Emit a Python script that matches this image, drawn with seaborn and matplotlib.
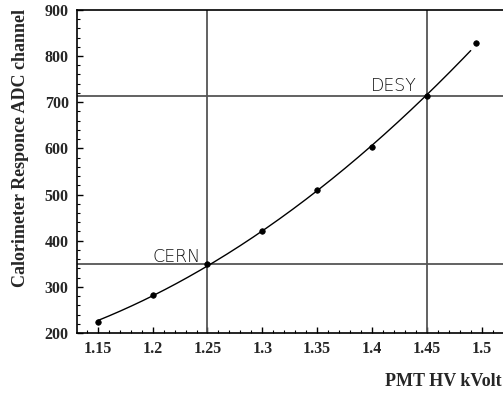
import numpy as np
import pandas as pd
import matplotlib
matplotlib.use("Agg")
import matplotlib.pyplot as plt
from matplotlib.ticker import MultipleLocator, FixedLocator, FixedFormatter
import seaborn as sns

# PMT high voltage (kV) and measured calorimeter response (ADC channel)
hv_kvolt = [1.15, 1.20, 1.25, 1.30, 1.35, 1.40, 1.45, 1.495]
adc_channel = [224, 282, 350, 420, 509, 603, 713, 828]

# working points of the two test beams
site_names = ["CERN", "DESY"]
site_hv = [1.25, 1.45]
site_adc = [350, 713]

x_ticks = [1.15, 1.2, 1.25, 1.3, 1.35, 1.4, 1.45, 1.5]
x_tick_labels = ["1.15", "1.2", "1.25", "1.3", "1.35", "1.4", "1.45", "1.5"]
y_ticks = [200, 300, 400, 500, 600, 700, 800, 900]

sns.set_theme(style="white")
plt.rcParams["font.family"] = ["Liberation Serif", "DejaVu Serif"]

df = pd.DataFrame({"hv": hv_kvolt, "adc": adc_channel})

# smooth quadratic fit through the measurements
coef = np.polyfit(df["hv"], df["adc"], 2)
fit_x = np.linspace(hv_kvolt[0], 1.49, 200)
fit_df = pd.DataFrame({"hv": fit_x, "adc": np.polyval(coef, fit_x)})

fig = plt.figure(figsize=(5.03, 3.95), dpi=100)
ax = fig.add_axes([0.153, 0.157, 0.870, 0.818])

# crosshair lines at the working points
for hv, adc in zip(site_hv, site_adc):
    ax.axvline(hv, color="#555555", lw=1.3, zorder=1)
    ax.axhline(adc, color="#555555", lw=1.3, zorder=1)

sns.lineplot(data=fit_df, x="hv", y="adc", ax=ax, color="black", lw=1.0,
             zorder=2)
sns.scatterplot(data=df, x="hv", y="adc", ax=ax, color="black", s=16,
                edgecolor="black", linewidth=0.5, zorder=3)

label_offsets = [(-0.006, 3), (-0.009, 11)]
for name, hv, adc, (dx, dy) in zip(site_names, site_hv, site_adc, label_offsets):
    ax.text(hv + dx, adc + dy, name, ha="right", va="baseline",
            fontsize=12.5, family="DejaVu Sans", fontweight="light",
            color="#111111")

ax.set_xlim(1.131, 1.53)
ax.set_ylim(200, 900)
ax.xaxis.set_major_locator(FixedLocator(x_ticks))
ax.xaxis.set_major_formatter(FixedFormatter(x_tick_labels))
ax.xaxis.set_minor_locator(MultipleLocator(0.01))
ax.yaxis.set_major_locator(FixedLocator(y_ticks))
ax.yaxis.set_minor_locator(MultipleLocator(20))

ax.tick_params(which="both", direction="in", bottom=True, left=True,
               top=False, right=False, color="black")
ax.tick_params(which="major", length=4, width=1.0, labelsize=11.5, pad=6)
ax.tick_params(which="minor", length=2, width=0.8)
for lbl in ax.get_xticklabels() + ax.get_yticklabels():
    lbl.set_fontweight("bold")

for side in ["left", "bottom", "top"]:
    ax.spines[side].set_color("black")
    ax.spines[side].set_linewidth(1.2)
ax.spines["right"].set_visible(False)

ax.set_xlabel("")
ax.set_ylabel("")
fig.text(0.040, 0.625, "Calorimeter Responce ADC channel", rotation=90,
         ha="center", va="center", fontsize=13, fontweight="bold")
fig.text(0.997, 0.033, "PMT HV kVolt", ha="right", va="center",
         fontsize=13, fontweight="bold")

fig.savefig("out.png", dpi=100)
